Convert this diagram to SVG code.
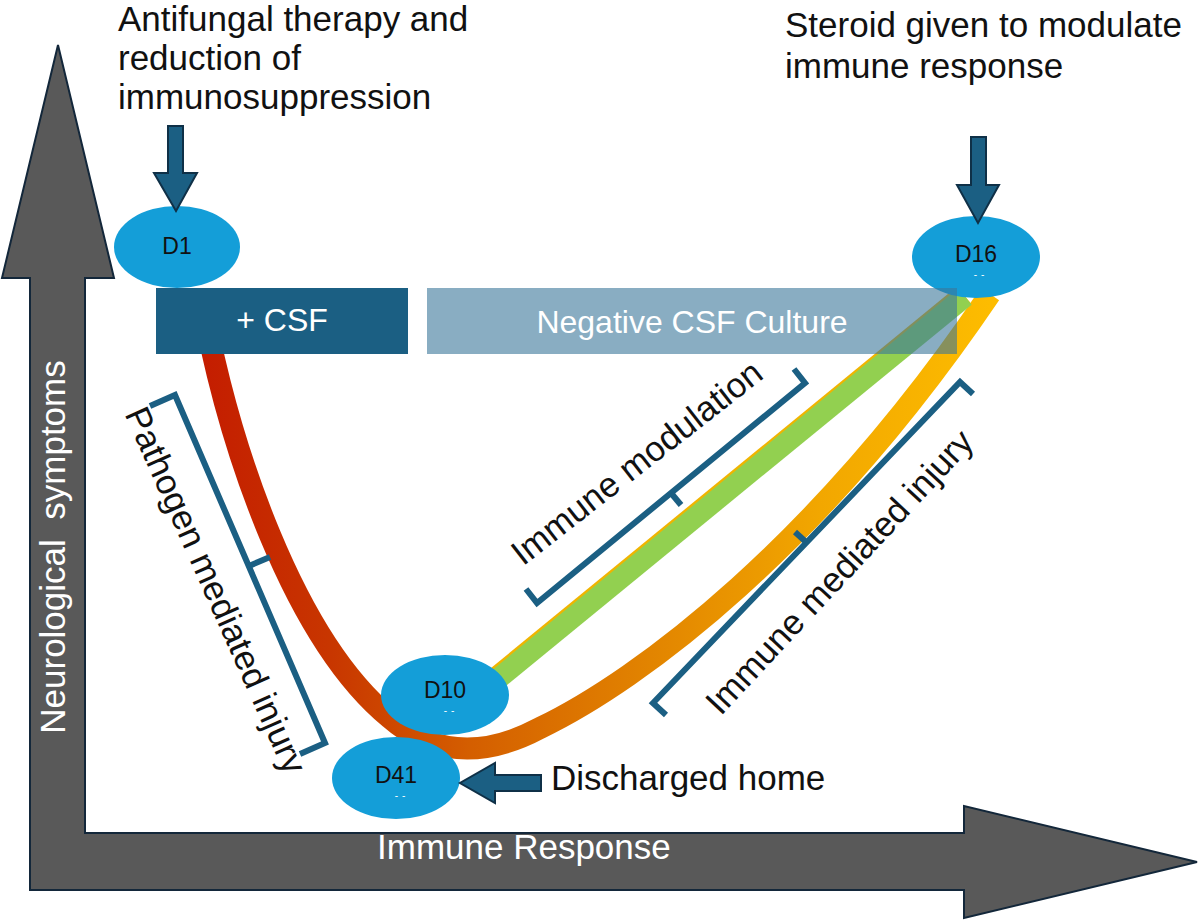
<svg xmlns="http://www.w3.org/2000/svg" width="1200" height="921" viewBox="0 0 1200 921">
<defs>
<style>
.lbl{font-family:"Liberation Sans",Arial,sans-serif;font-size:35px;fill:#111;}
.wl{font-family:"Liberation Sans",Arial,sans-serif;fill:#fff;}
.node{fill:#149ed8;}
.dl{font-family:"Liberation Sans",Arial,sans-serif;font-size:23px;fill:#111;text-anchor:middle;}
.dots{font-family:"Liberation Sans",Arial,sans-serif;font-size:10px;fill:#fff;text-anchor:middle;letter-spacing:4px;}
.darrow{fill:#1b5f83;stroke:#0f3047;stroke-width:2;stroke-linejoin:miter;}
.brk{fill:none;stroke:#1b5f83;stroke-width:6;stroke-linejoin:miter;}
</style>
<linearGradient id="gCurve" gradientUnits="userSpaceOnUse" x1="200" y1="0" x2="990" y2="0">
<stop offset="0" stop-color="#c41c00"/>
<stop offset="0.165" stop-color="#c83600"/>
<stop offset="0.342" stop-color="#d45e00"/>
<stop offset="0.57" stop-color="#e28400"/>
<stop offset="0.785" stop-color="#f2a700"/>
<stop offset="1" stop-color="#fdbc00"/>
</linearGradient>
</defs>
<rect width="1200" height="921" fill="#fff"/>

<g id="axes">
<path d="M30 890 L30 278 L2 278 L58 45 L114 278 L85 278 L85 833 L964 833 L964 806 L1197 862 L964 918 L964 890 Z" fill="#595959" stroke="#13273a" stroke-width="2"/>
<text class="wl" font-size="35" xml:space="preserve" text-anchor="middle" transform="translate(65 547) rotate(-90)">Neurological  symptoms</text>
<text class="wl" font-size="35" x="377" y="859">Immune Response</text>
</g>

<g id="connectors">
<path d="M200 290 C228 450 295 640 390 718 C430 753 480 760 540 728 C640 680 820 545 990 294" fill="none" stroke="url(#gCurve)" stroke-width="22"/>
<path d="M490 683 L964 295" fill="none" stroke="#f0b400" stroke-width="22"/>
<path d="M491 684.5 L965 296.5" fill="none" stroke="#92d050" stroke-width="21"/>
</g>

<g id="node-D16">
<ellipse class="node" cx="976" cy="257" rx="64" ry="41"/>
<text class="dl" x="976" y="262">D16</text>
<text class="dots" x="981" y="278">--</text>
</g>

<g id="node-D1">
<ellipse class="node" cx="177" cy="247" rx="63" ry="41"/>
<text class="dl" x="177" y="254">D1</text>
</g>

<g id="node-D10">
<ellipse class="node" cx="445" cy="695" rx="64" ry="40"/>
<text class="dl" x="445" y="698">D10</text>
<text class="dots" x="451" y="714">--</text>
</g>

<g id="node-D41">
<ellipse class="node" cx="396" cy="778" rx="64" ry="41"/>
<text class="dl" x="396" y="783">D41</text>
<text class="dots" x="402" y="799">--</text>
</g>

<g id="box-csf">
<rect x="156" y="288" width="252" height="66" fill="#1b5f83"/>
<text class="wl" font-size="32" x="282" y="331" text-anchor="middle">+ CSF</text>
</g>

<g id="box-negative">
<rect x="427" y="288" width="530" height="66" fill="#3b7699" fill-opacity="0.6"/>
<text class="wl" font-size="32" x="692" y="333" text-anchor="middle">Negative CSF Culture</text>
</g>

<g id="note-antifungal">
<text class="lbl" font-size="34" x="118" y="31">Antifungal therapy and</text>
<text class="lbl" font-size="34" x="118" y="70">reduction of</text>
<text class="lbl" font-size="34" x="118" y="109">immunosuppression</text>
<path class="darrow" d="M168 126 L183 126 L183 173 L197 173 L176 211 L154 173 L168 173 Z"/>
</g>

<g id="note-steroid">
<text class="lbl" x="785" y="37">Steroid given to modulate</text>
<text class="lbl" x="785" y="78">immune response</text>
<path class="darrow" d="M971 137 L986 137 L986 185 L999 185 L978 223 L957 185 L971 185 Z"/>
</g>

<g id="note-discharged">
<path class="darrow" d="M541 775 L541 791 L495 791 L495 803 L460 783 L495 763 L495 775 Z"/>
<text class="lbl" x="551" y="790">Discharged home</text>
</g>

<g id="bracket-pathogen">
<path class="brk" d="M150 406 L175 395 L325 743 L300 754"/>
<path class="brk" d="M249 566 L270 557"/>
<text class="lbl" font-size="33" text-anchor="middle" transform="translate(205 595) rotate(66)">Pathogen mediated injury</text>
</g>

<g id="bracket-modulation">
<path class="brk" d="M526 589 L537 603 L805 383 L794 369"/>
<path class="brk" d="M671 493 L681 505"/>
<text class="lbl" text-anchor="middle" transform="translate(644 472) rotate(-38)">Immune modulation</text>
</g>

<g id="bracket-mediated">
<path class="brk" d="M666 715 L653 703 L960 382 L973 394"/>
<path class="brk" d="M806 542 L795 532"/>
<text class="lbl" text-anchor="middle" transform="translate(848 580) rotate(-47)">Immune mediated injury</text>
</g>
</svg>
